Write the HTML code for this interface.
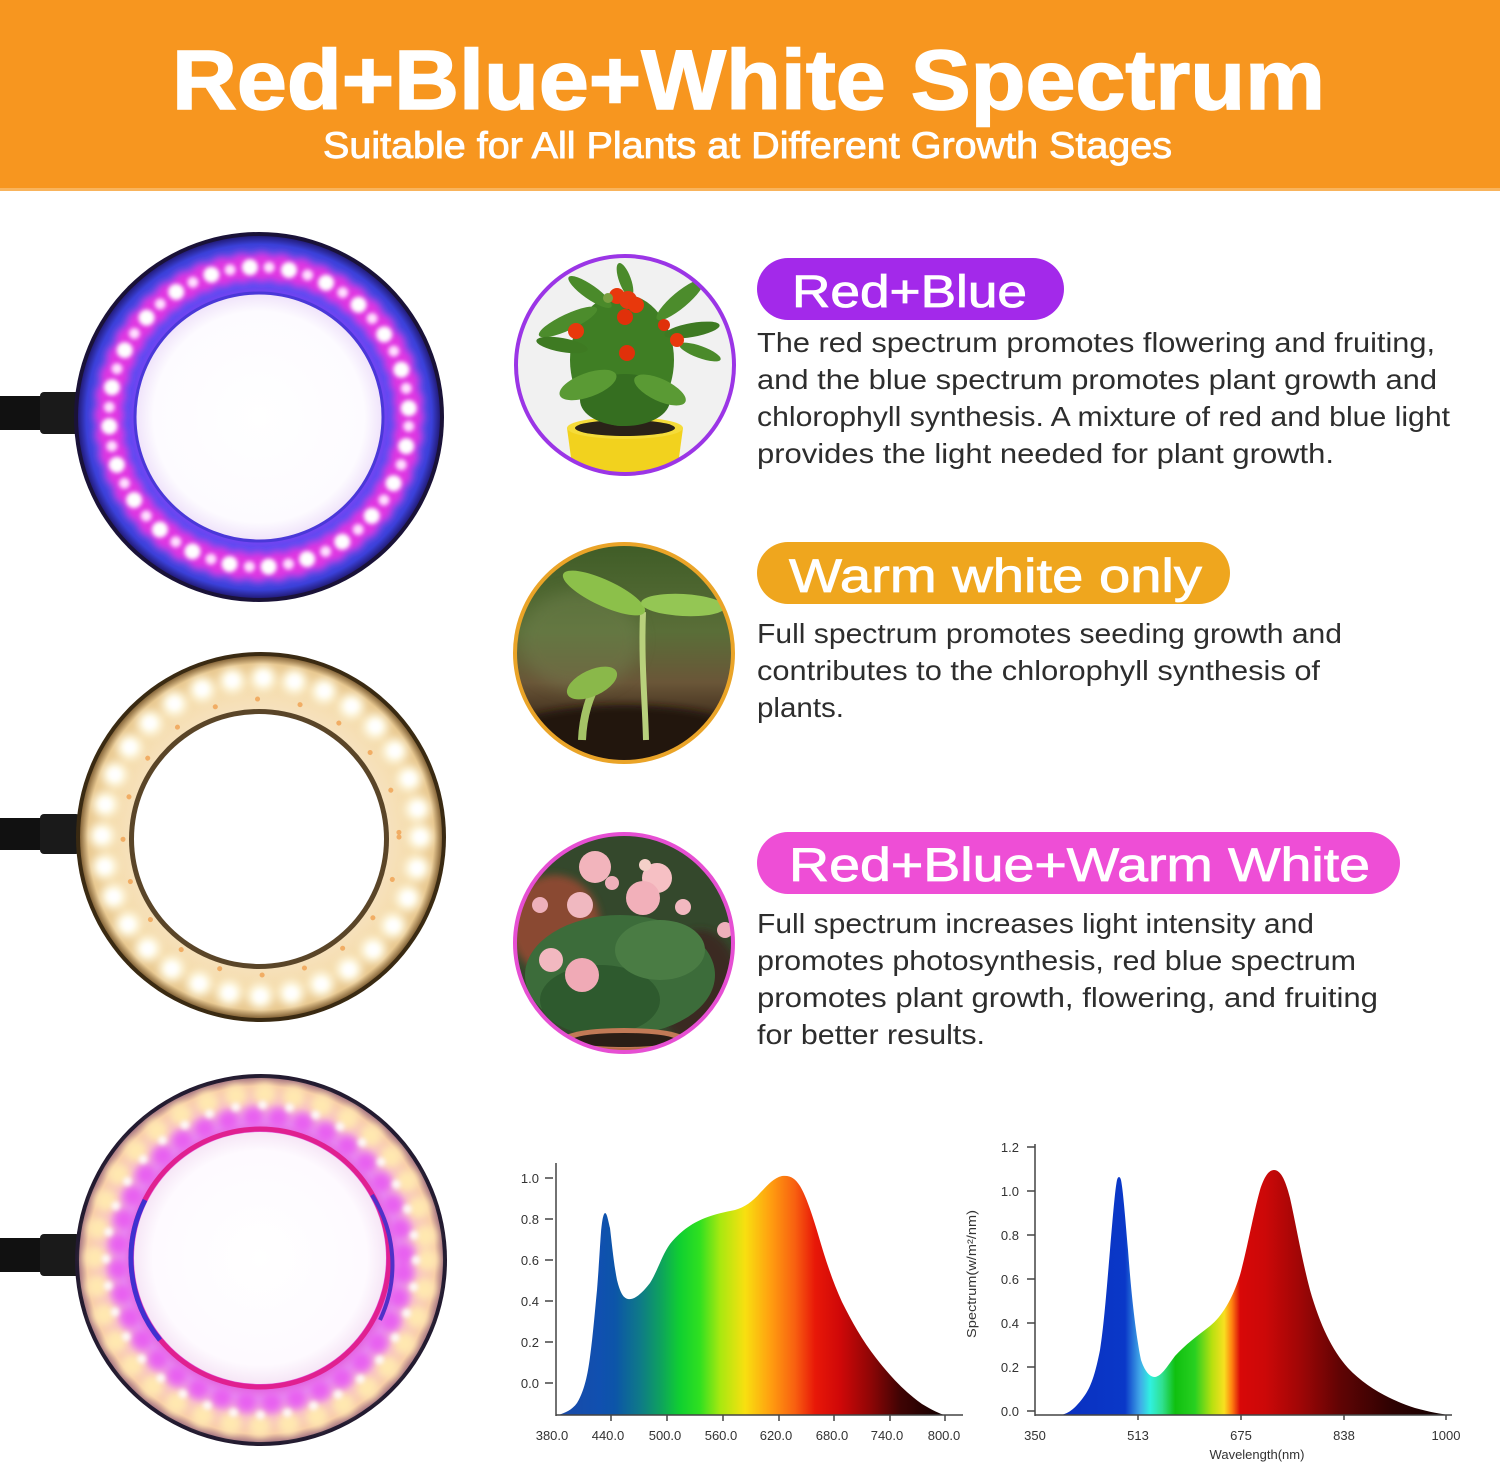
<!DOCTYPE html>
<html><head><meta charset="utf-8"><style>
html,body{margin:0;padding:0;background:#fff;}
svg{display:block;}
</style></head><body>
<svg width="1500" height="1466" viewBox="0 0 1500 1466" xmlns="http://www.w3.org/2000/svg">
<defs>
  <filter id="b2" x="-20%" y="-20%" width="140%" height="140%"><feGaussianBlur stdDeviation="2"/></filter>
  <filter id="b4" x="-20%" y="-20%" width="140%" height="140%"><feGaussianBlur stdDeviation="4"/></filter>
  <filter id="b8" x="-30%" y="-30%" width="160%" height="160%"><feGaussianBlur stdDeviation="8"/></filter>
  <radialGradient id="r1band" cx="259" cy="417" r="182" gradientUnits="userSpaceOnUse">
    <stop offset="0.66" stop-color="#8a3cf0"/>
    <stop offset="0.72" stop-color="#5a4cf2"/>
    <stop offset="0.86" stop-color="#5458f4"/>
    <stop offset="0.95" stop-color="#3a40d8"/>
    <stop offset="1" stop-color="#201870"/>
  </radialGradient>
  <radialGradient id="inW1" cx="259" cy="417" r="124" gradientUnits="userSpaceOnUse">
    <stop offset="0" stop-color="#ffffff"/>
    <stop offset="0.85" stop-color="#fdfbff"/>
    <stop offset="1" stop-color="#efe2fa"/>
  </radialGradient>
  <radialGradient id="r2band" cx="261" cy="837" r="182" gradientUnits="userSpaceOnUse">
    <stop offset="0.68" stop-color="#f6e2c0"/>
    <stop offset="0.85" stop-color="#f5dcaa"/>
    <stop offset="0.95" stop-color="#e8c890"/>
    <stop offset="1" stop-color="#7a5a30"/>
  </radialGradient>
  <radialGradient id="r3band" cx="261" cy="1260" r="183" gradientUnits="userSpaceOnUse">
    <stop offset="0.68" stop-color="#e050d8"/>
    <stop offset="0.76" stop-color="#e890f0"/>
    <stop offset="0.86" stop-color="#f8c0c8"/>
    <stop offset="0.95" stop-color="#f8cca8"/>
    <stop offset="1" stop-color="#a07080"/>
  </radialGradient>
  <radialGradient id="inW3" cx="260" cy="1258" r="126" gradientUnits="userSpaceOnUse">
    <stop offset="0" stop-color="#ffffff"/>
    <stop offset="0.85" stop-color="#fefaff"/>
    <stop offset="1" stop-color="#f6e6f6"/>
  </radialGradient>
  <linearGradient id="spec1" gradientUnits="userSpaceOnUse" x1="556" y1="0" x2="945" y2="0">
    <stop offset="0.01" stop-color="#1a4aa8"/>
    <stop offset="0.113" stop-color="#1050b0"/>
    <stop offset="0.152" stop-color="#0c55a8"/>
    <stop offset="0.216" stop-color="#0e7a88"/>
    <stop offset="0.267" stop-color="#0ea060"/>
    <stop offset="0.319" stop-color="#10d030"/>
    <stop offset="0.370" stop-color="#30e020"/>
    <stop offset="0.422" stop-color="#a8e810"/>
    <stop offset="0.486" stop-color="#f8e010"/>
    <stop offset="0.550" stop-color="#ffa010"/>
    <stop offset="0.614" stop-color="#f86010"/>
    <stop offset="0.666" stop-color="#e81808"/>
    <stop offset="0.730" stop-color="#d00808"/>
    <stop offset="0.807" stop-color="#900606"/>
    <stop offset="0.884" stop-color="#400404"/>
    <stop offset="1" stop-color="#100000"/>
  </linearGradient>
  <linearGradient id="spec2" gradientUnits="userSpaceOnUse" x1="1060" y1="0" x2="1450" y2="0">
    <stop offset="0" stop-color="#0a30c0"/>
    <stop offset="0.167" stop-color="#0a38c8"/>
    <stop offset="0.205" stop-color="#40a8e8"/>
    <stop offset="0.231" stop-color="#30f0e0"/>
    <stop offset="0.262" stop-color="#30e090"/>
    <stop offset="0.295" stop-color="#10c010"/>
    <stop offset="0.346" stop-color="#28d020"/>
    <stop offset="0.390" stop-color="#b8e010"/>
    <stop offset="0.421" stop-color="#f8e020"/>
    <stop offset="0.441" stop-color="#ff8010"/>
    <stop offset="0.462" stop-color="#d80808"/>
    <stop offset="0.526" stop-color="#cc0808"/>
    <stop offset="0.615" stop-color="#a00606"/>
    <stop offset="0.718" stop-color="#600404"/>
    <stop offset="0.846" stop-color="#300202"/>
    <stop offset="1" stop-color="#100000"/>
  </linearGradient>
  <linearGradient id="seedbg" x1="0" y1="0" x2="0" y2="1">
    <stop offset="0" stop-color="#3e5c26"/>
    <stop offset="0.4" stop-color="#5a6e38"/>
    <stop offset="0.62" stop-color="#6a5638"/>
    <stop offset="0.8" stop-color="#3a2818"/>
    <stop offset="1" stop-color="#1e140c"/>
  </linearGradient>
  <clipPath id="c1"><circle cx="625" cy="365" r="109"/></clipPath>
  <clipPath id="c2"><circle cx="624" cy="653" r="109"/></clipPath>
  <clipPath id="c3"><circle cx="624" cy="943" r="109"/></clipPath>
</defs>

<!-- Header -->
<rect x="0" y="0" width="1500" height="190" fill="#f7961f"/>
<rect x="0" y="188" width="1500" height="3" fill="#f9b45c"/>
<text x="172" y="109" font-family="Liberation Sans, sans-serif" font-weight="bold" font-size="84" fill="#fff" stroke="#fff" stroke-width="1.5" textLength="1153" lengthAdjust="spacingAndGlyphs">Red+Blue+White Spectrum</text>
<text x="323" y="158" font-family="Liberation Sans, sans-serif" font-size="37" fill="#fff" stroke="#fff" stroke-width="0.9" textLength="849" lengthAdjust="spacingAndGlyphs">Suitable for All Plants at Different Growth Stages</text>

<!-- Ring 1 -->
<rect x="0" y="396" width="80" height="34" fill="#111"/>
<rect x="40" y="392" width="40" height="42" rx="4" fill="#1a1a1a"/>
<circle cx="259" cy="417" r="185" fill="#1a1238"/>
<circle cx="259" cy="417" r="181" fill="url(#r1band)"/>
<circle cx="259" cy="417" r="150" fill="none" stroke="#f030e0" stroke-width="30" stroke-linecap="round" stroke-dasharray="0.1 19.6" filter="url(#b4)" opacity="0.9"/>
<circle cx="259" cy="417" r="150" fill="none" stroke="#ffffff" stroke-width="16" stroke-linecap="round" stroke-dasharray="0.1 39.2" stroke-dashoffset="10" filter="url(#b2)"/>
<circle cx="259" cy="417" r="150" fill="none" stroke="#ffe0ff" stroke-width="11" stroke-linecap="round" stroke-dasharray="0.1 39.2" stroke-dashoffset="30" filter="url(#b2)"/>
<circle cx="259" cy="417" r="124" fill="url(#inW1)" stroke="#4a38d8" stroke-width="3"/>

<!-- Ring 2 -->
<rect x="0" y="818" width="80" height="32" fill="#111"/>
<rect x="40" y="814" width="40" height="40" rx="4" fill="#1a1a1a"/>
<circle cx="261" cy="837" r="185" fill="#3a2a12"/>
<circle cx="261" cy="837" r="181" fill="url(#r2band)"/>
<circle cx="261" cy="837" r="159" fill="none" stroke="#fffbe8" stroke-width="24" stroke-linecap="round" stroke-dasharray="0.1 31.2" filter="url(#b4)"/>
<circle cx="261" cy="837" r="159" fill="none" stroke="#ffffff" stroke-width="12" stroke-linecap="round" stroke-dasharray="0.1 31.2" filter="url(#b2)"/>
<circle cx="261" cy="837" r="138" fill="none" stroke="#f0a050" stroke-width="5" stroke-linecap="round" stroke-dasharray="0.1 43" opacity="0.8"/>
<circle cx="259" cy="839" r="130" fill="#5a4528"/>
<circle cx="259" cy="839" r="125" fill="#ffffff"/>

<!-- Ring 3 -->
<rect x="0" y="1238" width="80" height="34" fill="#111"/>
<rect x="40" y="1234" width="40" height="42" rx="4" fill="#1a1a1a"/>
<circle cx="261" cy="1260" r="186" fill="#221a30"/>
<circle cx="261" cy="1260" r="182" fill="url(#r3band)"/>
<circle cx="261" cy="1260" r="166" fill="none" stroke="#ffe8b0" stroke-width="22" stroke-linecap="round" stroke-dasharray="0.1 29" filter="url(#b4)"/>
<circle cx="261" cy="1260" r="143" fill="none" stroke="#e860f0" stroke-width="20" stroke-linecap="round" stroke-dasharray="0.1 25" stroke-dashoffset="12" filter="url(#b4)"/>
<circle cx="261" cy="1260" r="155" fill="none" stroke="#ffffff" stroke-width="9" stroke-linecap="round" stroke-dasharray="0.1 27" filter="url(#b2)" opacity="0.85"/>
<circle cx="260" cy="1258" r="129" fill="none" stroke="#e02090" stroke-width="5"/>
<path d="M 145 1200 A 129 129 0 0 0 160 1340" fill="none" stroke="#4030d0" stroke-width="5"/>
<path d="M 372 1195 A 129 129 0 0 1 380 1320" fill="none" stroke="#5030c8" stroke-width="4"/>
<circle cx="260" cy="1258" r="126" fill="url(#inW3)"/>

<!-- Plant circle 1 -->
<g clip-path="url(#c1)">
  <rect x="510" y="250" width="230" height="230" fill="#f1f1f1"/>
  <path d="M567 428 L683 428 L676 480 L574 480 Z" fill="#f2d21e"/>
  <ellipse cx="625" cy="428" rx="58" ry="11" fill="#f5dc3a"/>
  <ellipse cx="625" cy="428" rx="50" ry="8" fill="#2a2218"/>
  <ellipse cx="622" cy="360" rx="52" ry="66" fill="#3f7e24"/>
  <ellipse cx="625" cy="400" rx="45" ry="26" fill="#356e20"/>
  <ellipse cx="568" cy="322" rx="32" ry="8" transform="rotate(-25 568 322)" fill="#4c8c2c"/>
  <ellipse cx="562" cy="345" rx="26" ry="7" transform="rotate(10 562 345)" fill="#3e7a22"/>
  <ellipse cx="590" cy="292" rx="26" ry="7" transform="rotate(35 590 292)" fill="#4a8a2a"/>
  <ellipse cx="680" cy="300" rx="30" ry="8" transform="rotate(-40 680 300)" fill="#4c8c2c"/>
  <ellipse cx="692" cy="330" rx="28" ry="7" transform="rotate(-10 692 330)" fill="#3e7a22"/>
  <ellipse cx="700" cy="352" rx="22" ry="6" transform="rotate(20 700 352)" fill="#4a8a2a"/>
  <ellipse cx="588" cy="385" rx="30" ry="12" transform="rotate(-20 588 385)" fill="#5a9a34"/>
  <ellipse cx="660" cy="390" rx="28" ry="11" transform="rotate(25 660 390)" fill="#5a9a34"/>
  <ellipse cx="625" cy="280" rx="18" ry="6" transform="rotate(70 625 280)" fill="#4a8a2a"/>
  <circle cx="617" cy="296" r="8" fill="#e8380c"/>
  <circle cx="628" cy="300" r="9" fill="#e53a10"/>
  <circle cx="636" cy="305" r="8" fill="#e8380c"/>
  <circle cx="625" cy="317" r="8" fill="#e0300a"/>
  <circle cx="576" cy="331" r="8" fill="#e8380c"/>
  <circle cx="627" cy="353" r="8" fill="#e0300a"/>
  <circle cx="677" cy="340" r="7" fill="#e8380c"/>
  <circle cx="664" cy="325" r="6" fill="#e0300a"/>
  <circle cx="608" cy="298" r="5" fill="#7aa040"/>
</g>
<circle cx="625" cy="365" r="109" fill="none" stroke="#9b35e6" stroke-width="4"/>

<!-- Plant circle 2 -->
<g clip-path="url(#c2)">
  <rect x="510" y="540" width="230" height="230" fill="url(#seedbg)"/>
  <ellipse cx="580" cy="640" rx="60" ry="50" fill="#7a8a58" opacity="0.35" filter="url(#b8)"/>
  <ellipse cx="624" cy="735" rx="120" ry="30" fill="#241810" filter="url(#b4)"/>
  <path d="M646 740 C645 700 641 660 643 612" fill="none" stroke="#b8d07c" stroke-width="6"/>
  <ellipse cx="604" cy="593" rx="45" ry="13" transform="rotate(25 604 593)" fill="#8cc04a"/>
  <ellipse cx="683" cy="605" rx="42" ry="11" transform="rotate(3 683 605)" fill="#94c654"/>
  <path d="M582 740 C583 715 590 695 598 682" fill="none" stroke="#a4c466" stroke-width="8"/>
  <ellipse cx="592" cy="683" rx="27" ry="13" transform="rotate(-25 592 683)" fill="#8ab84a"/>
</g>
<circle cx="624" cy="653" r="109" fill="none" stroke="#eaa428" stroke-width="4"/>

<!-- Plant circle 3 -->
<g clip-path="url(#c3)">
  <rect x="510" y="830" width="230" height="230" fill="#34482c"/>
  <ellipse cx="555" cy="925" rx="45" ry="50" fill="#8a4a30" filter="url(#b4)"/>
  <ellipse cx="700" cy="990" rx="40" ry="60" fill="#3a2a20" filter="url(#b4)"/>
  <ellipse cx="620" cy="975" rx="95" ry="60" fill="#3c6c3a"/>
  <ellipse cx="600" cy="1000" rx="60" ry="35" fill="#2e5a2e"/>
  <ellipse cx="660" cy="950" rx="45" ry="30" fill="#4a7c44"/>
  <path d="M560 1040 L690 1040 L686 1060 L564 1060 Z" fill="#b56a48"/>
  <ellipse cx="624" cy="1038" rx="60" ry="10" fill="#c27a56"/>
  <ellipse cx="624" cy="1040" rx="52" ry="7" fill="#2a1e16"/>
  <circle cx="595" cy="867" r="16" fill="#f2b4bc"/>
  <circle cx="657" cy="878" r="15" fill="#f6c0c4"/>
  <circle cx="643" cy="898" r="17" fill="#f2b0ba"/>
  <circle cx="580" cy="905" r="13" fill="#f0b8c0"/>
  <circle cx="551" cy="960" r="12" fill="#f2b8c0"/>
  <circle cx="582" cy="975" r="17" fill="#f0aab6"/>
  <circle cx="683" cy="907" r="8" fill="#f2b8c0"/>
  <circle cx="612" cy="883" r="7" fill="#eeb0ba"/>
  <circle cx="540" cy="905" r="8" fill="#eeb0ba"/>
  <circle cx="725" cy="930" r="8" fill="#eeb0ba"/>
  <circle cx="645" cy="865" r="6" fill="#f4d0c8"/>
</g>
<circle cx="624" cy="943" r="109" fill="none" stroke="#e64fd3" stroke-width="4"/>

<!-- Pills -->
<rect x="757" y="258" width="307" height="62" rx="31" fill="#a329ea"/>
<text x="792" y="307" font-family="Liberation Sans, sans-serif" font-size="45" fill="#fff" stroke="#fff" stroke-width="0.8" textLength="235" lengthAdjust="spacingAndGlyphs">Red+Blue</text>
<rect x="757" y="542" width="473" height="62" rx="31" fill="#efa61e"/>
<text x="789" y="592" font-family="Liberation Sans, sans-serif" font-size="47" fill="#fff" stroke="#fff" stroke-width="0.8" textLength="413" lengthAdjust="spacingAndGlyphs">Warm white only</text>
<rect x="757" y="832" width="643" height="62" rx="31" fill="#ee4ed6"/>
<text x="789" y="881" font-family="Liberation Sans, sans-serif" font-size="47" fill="#fff" stroke="#fff" stroke-width="0.8" textLength="581" lengthAdjust="spacingAndGlyphs">Red+Blue+Warm White</text>

<!-- Body text -->
<g font-family="Liberation Sans, sans-serif" font-size="28" fill="#2d2d2d">
  <text x="757" y="352" textLength="678" lengthAdjust="spacingAndGlyphs">The red spectrum promotes flowering and fruiting,</text>
  <text x="757" y="389" textLength="680" lengthAdjust="spacingAndGlyphs">and the blue spectrum promotes plant growth and</text>
  <text x="757" y="426" textLength="693" lengthAdjust="spacingAndGlyphs">chlorophyll synthesis. A mixture of red and blue light</text>
  <text x="757" y="463" textLength="577" lengthAdjust="spacingAndGlyphs">provides the light needed for plant growth.</text>

  <text x="757" y="643" textLength="585" lengthAdjust="spacingAndGlyphs">Full spectrum promotes seeding growth and</text>
  <text x="757" y="680" textLength="563" lengthAdjust="spacingAndGlyphs">contributes to the chlorophyll synthesis of</text>
  <text x="757" y="717" textLength="87" lengthAdjust="spacingAndGlyphs">plants.</text>

  <text x="757" y="933" textLength="557" lengthAdjust="spacingAndGlyphs">Full spectrum increases light intensity and</text>
  <text x="757" y="970" textLength="599" lengthAdjust="spacingAndGlyphs">promotes photosynthesis, red blue spectrum</text>
  <text x="757" y="1007" textLength="621" lengthAdjust="spacingAndGlyphs">promotes plant growth, flowering, and fruiting</text>
  <text x="757" y="1044" textLength="228" lengthAdjust="spacingAndGlyphs">for better results.</text>
</g>

<!-- Chart 1 -->
<path d="M556,1415 L558,1415 C565,1413 572,1410 577,1403 C583,1393 587,1380 590,1357 C593,1335 595,1310 597,1290 C599,1265 600,1245 601,1232 C602,1222 603,1214 605,1213 C607,1213 608,1220 610,1228 C612,1245 614,1265 617,1280 C620,1292 623,1298 628,1299 C633,1300 640,1296 650,1283 C658,1270 662,1255 670,1244 C680,1232 690,1224 705,1218 C715,1214 725,1212 735,1210 C745,1207 752,1202 760,1193 C767,1186 773,1178 782,1176 C790,1175 795,1178 800,1186 C806,1196 812,1214 818,1234 C825,1258 832,1280 842,1302 C852,1322 862,1340 876,1358 C890,1376 905,1392 922,1404 C932,1410 940,1414 945,1415 Z" fill="url(#spec1)"/>
<g stroke="#444" stroke-width="1.5" fill="none">
  <line x1="556" y1="1163" x2="556" y2="1416"/>
  <line x1="556" y1="1415" x2="963" y2="1415"/>
  <line x1="545" y1="1178" x2="553" y2="1178"/>
  <line x1="545" y1="1219" x2="553" y2="1219"/>
  <line x1="545" y1="1260" x2="553" y2="1260"/>
  <line x1="545" y1="1301" x2="553" y2="1301"/>
  <line x1="545" y1="1342" x2="553" y2="1342"/>
  <line x1="545" y1="1383" x2="553" y2="1383"/>
  <line x1="611" y1="1415" x2="611" y2="1421"/>
  <line x1="667" y1="1415" x2="667" y2="1421"/>
  <line x1="723" y1="1415" x2="723" y2="1421"/>
  <line x1="779" y1="1415" x2="779" y2="1421"/>
  <line x1="834" y1="1415" x2="834" y2="1421"/>
  <line x1="890" y1="1415" x2="890" y2="1421"/>
  <line x1="945" y1="1415" x2="945" y2="1421"/>
</g>
<g font-family="Liberation Sans, sans-serif" font-size="13" fill="#333" text-anchor="end">
  <text x="539" y="1183">1.0</text>
  <text x="539" y="1224">0.8</text>
  <text x="539" y="1265">0.6</text>
  <text x="539" y="1306">0.4</text>
  <text x="539" y="1347">0.2</text>
  <text x="539" y="1388">0.0</text>
</g>
<g font-family="Liberation Sans, sans-serif" font-size="13" fill="#333" text-anchor="middle">
  <text x="552" y="1440">380.0</text>
  <text x="608" y="1440">440.0</text>
  <text x="665" y="1440">500.0</text>
  <text x="721" y="1440">560.0</text>
  <text x="776" y="1440">620.0</text>
  <text x="832" y="1440">680.0</text>
  <text x="887" y="1440">740.0</text>
  <text x="944" y="1440">800.0</text>
</g>

<!-- Chart 2 -->
<path d="M1060,1415 C1070,1414 1078,1405 1085,1395 C1092,1385 1096,1370 1100,1350 C1104,1325 1107,1285 1110,1250 C1113,1215 1115,1190 1117,1180 C1118,1176 1120,1176 1121,1180 C1123,1190 1125,1215 1128,1250 C1131,1290 1135,1330 1141,1360 C1145,1372 1150,1377 1155,1377 C1162,1376 1168,1365 1175,1356 C1185,1345 1197,1336 1210,1326 C1222,1316 1232,1300 1240,1275 C1247,1250 1253,1215 1260,1190 C1265,1174 1270,1170 1274,1170 C1280,1170 1285,1178 1290,1198 C1296,1225 1302,1260 1310,1290 C1320,1325 1332,1350 1348,1368 C1366,1387 1390,1400 1415,1408 C1430,1412 1440,1414 1450,1415 Z" fill="url(#spec2)"/>
<g stroke="#444" stroke-width="1.5" fill="none">
  <line x1="1035" y1="1144" x2="1035" y2="1416"/>
  <line x1="1035" y1="1415" x2="1452" y2="1415"/>
  <line x1="1027" y1="1147" x2="1035" y2="1147"/>
  <line x1="1027" y1="1191" x2="1035" y2="1191"/>
  <line x1="1027" y1="1235" x2="1035" y2="1235"/>
  <line x1="1027" y1="1279" x2="1035" y2="1279"/>
  <line x1="1027" y1="1323" x2="1035" y2="1323"/>
  <line x1="1027" y1="1367" x2="1035" y2="1367"/>
  <line x1="1027" y1="1411" x2="1035" y2="1411"/>
  <line x1="1138" y1="1415" x2="1138" y2="1420"/>
  <line x1="1241" y1="1415" x2="1241" y2="1420"/>
  <line x1="1344" y1="1415" x2="1344" y2="1420"/>
  <line x1="1446" y1="1415" x2="1446" y2="1420"/>
</g>
<g font-family="Liberation Sans, sans-serif" font-size="13" fill="#333" text-anchor="end">
  <text x="1019" y="1152">1.2</text>
  <text x="1019" y="1196">1.0</text>
  <text x="1019" y="1240">0.8</text>
  <text x="1019" y="1284">0.6</text>
  <text x="1019" y="1328">0.4</text>
  <text x="1019" y="1372">0.2</text>
  <text x="1019" y="1416">0.0</text>
</g>
<g font-family="Liberation Sans, sans-serif" font-size="13" fill="#333" text-anchor="middle">
  <text x="1035" y="1440">350</text>
  <text x="1138" y="1440">513</text>
  <text x="1241" y="1440">675</text>
  <text x="1344" y="1440">838</text>
  <text x="1446" y="1440">1000</text>
  <text x="1257" y="1459">Wavelength(nm)</text>
</g>
<text x="-64" y="0" transform="translate(976 1274) rotate(-90)" font-family="Liberation Sans, sans-serif" font-size="13" fill="#333" textLength="128" lengthAdjust="spacingAndGlyphs">Spectrum(w/m²/nm)</text>
</svg>
</body></html>
